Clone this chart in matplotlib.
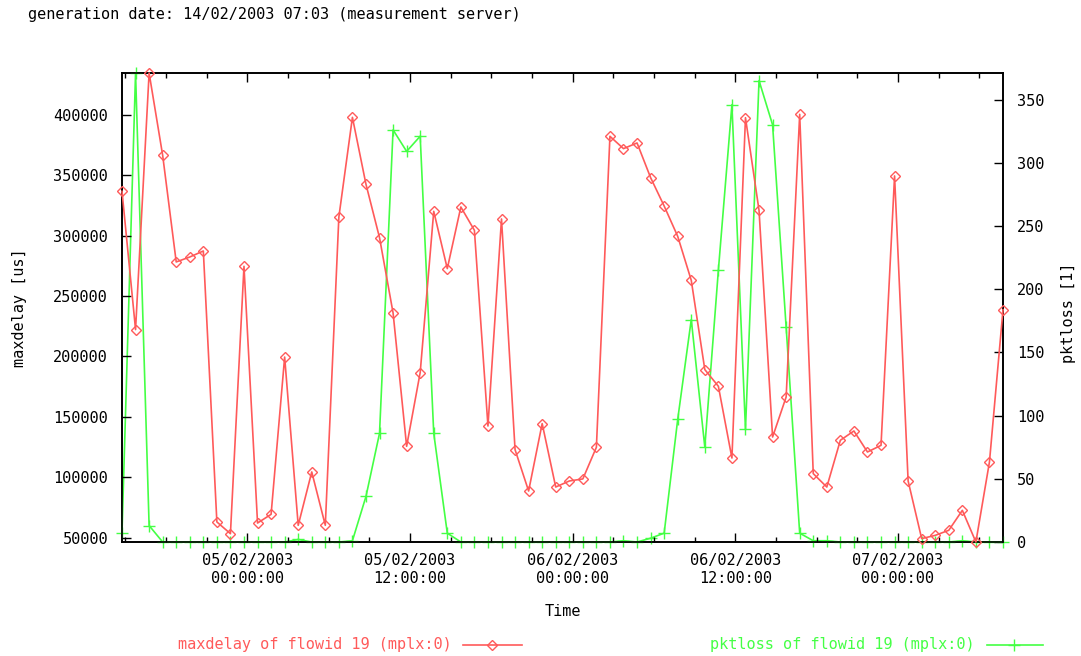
import matplotlib
matplotlib.use("Agg")
import matplotlib.pyplot as plt
import matplotlib.dates as mdates
from matplotlib.lines import Line2D
import pandas as pd

# hourly samples, first one at 04/02/2003 14:45
start_time = "2003-02-04 14:45"

maxdelay = [336700, 222200, 434600, 366500, 278200, 282300, 287300, 63000, 53300, 274600,
            62100, 69300, 199500, 60200, 104400, 60200, 315400, 397900, 342500, 298300,
            236000, 125600, 186600, 320100, 272700, 323700, 304400, 142400, 313800, 122800,
            88600, 144400, 91900, 96900, 98600, 124800, 382200, 372000, 376700, 348000,
            324500, 299400, 263000, 189100, 175300, 115900, 397600, 320900, 133300, 166400,
            400400, 103000, 91900, 130600, 138300, 120900, 126400, 349400, 96900, 49200,
            51900, 56100, 72600, 46400, 112600, 238700]

pktloss = [7, 371, 13, 0, 0, 0, 0, 0, 0, 0,
           0, 0, 0, 2, 0, 0, 0, 1, 36, 86,
           326, 309, 321, 86, 7, 0, 0, 0, 0, 0,
           0, 0, 0, 0, 0, 0, 0, 1, 0, 3,
           7, 97, 176, 75, 215, 346, 89, 365, 330, 170,
           7, 1, 1, 0, 0, 0, 0, 0, 0, 0,
           0, 0, 1, 0, 0, 0]

title_text = "generation date: 14/02/2003 07:03 (measurement server)"
label_delay = "maxdelay of flowid 19 (mplx:0)"
label_loss = "pktloss of flowid 19 (mplx:0)"

RED = "#ff5a5a"
GREEN = "#44ff44"
FONT = "DejaVu Sans Mono"
FS = 11

plt.rcParams["font.family"] = FONT
plt.rcParams["font.size"] = FS

times = pd.date_range(start_time, periods=len(maxdelay), freq="h")

W, H = 1081, 656
fig = plt.figure(figsize=(W / 100, H / 100), dpi=100)
ax = fig.add_axes([122 / W, 1 - 542 / H, (1003 - 122) / W, (542 - 73) / H])
ax2 = ax.twinx()

# left axis: maxdelay
ax.plot(times, maxdelay, color=RED, lw=1.2, marker="D", ms=5, mfc="none",
        mec=RED, mew=1, clip_on=False, zorder=3)
ax.set_ylim(min(maxdelay), max(maxdelay))
ax.set_yticks(range(50000, 400001, 50000))
ax.set_ylabel("maxdelay [us]", fontsize=FS)
ax.yaxis.set_label_coords(-0.108, 0.5)

# right axis: pktloss
ax2.plot(times, pktloss, color=GREEN, lw=1.2, marker="+", ms=9, mew=1,
         clip_on=False, zorder=3)
ax2.set_ylim(0, max(pktloss))
ax2.set_yticks(range(0, 351, 50))
ax2.set_ylabel("pktloss [1]", fontsize=FS, rotation=90)
ax2.yaxis.set_label_coords(1.066, 0.488)

ax.set_xlim(times[0], times[-1])
ax.xaxis.set_major_locator(mdates.HourLocator(byhour=[0, 12]))
ax.xaxis.set_minor_locator(mdates.HourLocator(byhour=range(0, 24, 3)))
ax.xaxis.set_major_formatter(mdates.DateFormatter("%d/%m/%Y\n%H:%M:%S"))
ax.set_xlabel("Time", fontsize=FS)
ax.xaxis.set_label_coords(0.5, -0.133)

ax.tick_params(axis="x", which="major", direction="in", length=6.5, width=1,
               top=True, bottom=True, pad=8, labelsize=FS)
ax.tick_params(axis="x", which="minor", direction="in", length=3.5, width=1,
               top=True, bottom=True)
ax.tick_params(axis="y", direction="in", length=6.5, width=1, left=True,
               right=False, pad=10, labelsize=FS)
ax2.tick_params(axis="y", direction="in", length=6.5, width=1, right=True,
                left=False, pad=10, labelsize=FS)

for a in (ax, ax2):
    for s in a.spines.values():
        s.set_linewidth(1.2)
        s.set_color("black")

ax.set_zorder(ax2.get_zorder() + 1)
ax.patch.set_visible(False)

# title line
fig.text(28 / W, 1 - 14 / H, title_text, ha="left", va="center", fontsize=FS)

# key at the bottom: text right-justified, sample to its right
key_y = 1 - 645 / H
fig.text(452 / W, key_y, label_delay, ha="right", va="center", color=RED, fontsize=FS)
fig.add_artist(Line2D([463 / W, 522 / W], [key_y, key_y], color=RED, lw=1.2,
                      transform=fig.transFigure))
fig.add_artist(Line2D([492 / W], [key_y], color=RED, marker="D", ms=5, mfc="none",
                      mew=1, transform=fig.transFigure))
fig.text(975 / W, key_y, label_loss, ha="right", va="center", color=GREEN, fontsize=FS)
fig.add_artist(Line2D([987 / W, 1043 / W], [key_y, key_y], color=GREEN, lw=1.2,
                      transform=fig.transFigure))
fig.add_artist(Line2D([1014 / W], [key_y], color=GREEN, marker="+", ms=9,
                      mew=1, transform=fig.transFigure))

fig.savefig("out.png", dpi=100)
